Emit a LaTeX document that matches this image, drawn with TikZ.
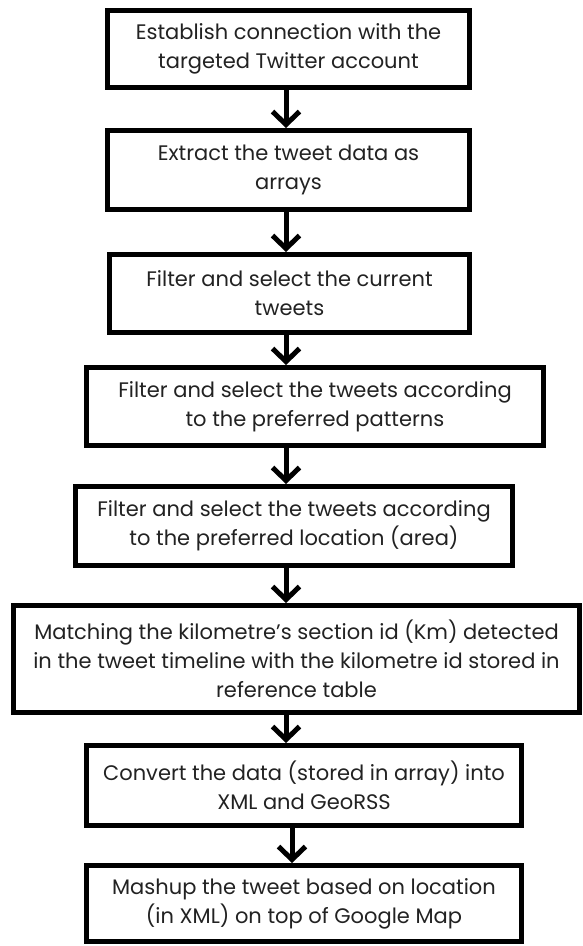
\documentclass[tikz,border=0pt]{standalone}
\usepackage{fontspec}
\setmainfont{Poppins}
\usepackage{tikz}
\usetikzlibrary{arrows.meta}
\definecolor{inkgrey}{HTML}{222222}

\begin{document}
\begin{tikzpicture}[x=1pt, y=-1pt,
    stagebox/.style={draw=black, line width=5pt, fill=white, align=center, inner sep=0pt,
      text=inkgrey, font=\fontsize{21}{29}\selectfont},
    flowarrow/.style={draw=black, line width=5pt, -{Straight Barb[length=13pt,width=27pt]}}]
  \useasboundingbox (0,0) rectangle (583,946);
  \coordinate (spine) at (286,0);
  \coordinate (spinelast) at (292,0);
  \node[stagebox, minimum width=362pt, minimum height=77pt] (connect) at (288.5,49)
    {Establish connection with the\\targeted Twitter account};
  \node[stagebox, minimum width=362pt, minimum height=79pt] (extract) at (288.5,170)
    {Extract the tweet data as\\arrays};
  \node[stagebox, minimum width=360pt, minimum height=78pt] (current) at (289.5,293.5)
    {Filter and select the current\\tweets};
  \node[stagebox, minimum width=457pt, minimum height=78pt] (pattern) at (315,406.5)
    {Filter and select the tweets according\\to the preferred patterns};
  \node[stagebox, minimum width=437pt, minimum height=79pt] (location) at (294,526)
    {Filter and select the tweets according\\to the preferred location (area)};
  \node[stagebox, minimum width=566pt, minimum height=107pt] (match) at (296.5,659)
    {Matching the kilometre’s section id (Km) detected\\in the tweet timeline with the kilometre id stored in\\reference table};
  \node[stagebox, minimum width=435pt, minimum height=80pt] (convert) at (304,785.5)
    {Convert the data (stored in array) into\\XML and GeoRSS};
  \node[stagebox, minimum width=435pt, minimum height=76pt] (mashup) at (304,903.5)
    {Mashup the tweet based on location\\(in XML) on top of Google Map};
  \draw[flowarrow] (connect.south -| spine) -- (extract.north -| spine);
  \draw[flowarrow] (extract.south -| spine) -- (current.north -| spine);
  \draw[flowarrow] (current.south -| spine) -- (pattern.north -| spine);
  \draw[flowarrow] (pattern.south -| spine) -- (location.north -| spine);
  \draw[flowarrow] (location.south -| spine) -- (match.north -| spine);
  \draw[flowarrow] (match.south -| spine) -- (convert.north -| spine);
  \draw[flowarrow] (convert.south -| spinelast) -- (mashup.north -| spinelast);
\end{tikzpicture}
\end{document}
